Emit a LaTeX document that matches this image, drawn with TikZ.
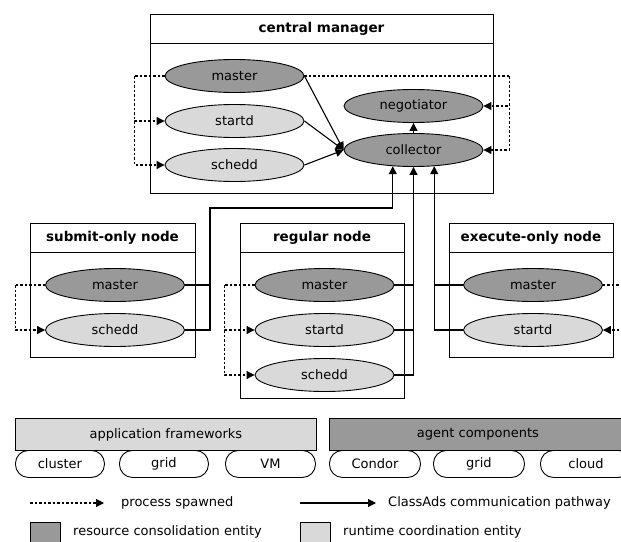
\documentclass[tikz,border=0pt]{standalone}
\usepackage{fontspec}
\setmainfont{DejaVu Sans}
\usetikzlibrary{arrows.meta,shapes.geometric,calc}
\definecolor{darkfill}{gray}{0.6}
\definecolor{lightfill}{gray}{0.85}

\begin{document}
\begin{tikzpicture}[x=1pt,y=-1pt,
  every node/.style={font=\fontsize{13}{15}\selectfont},
  proc/.style={ellipse,draw,line width=0.9pt,minimum width=139pt,minimum height=33pt,inner sep=0pt},
  daemon/.style={proc,fill=darkfill},
  helper/.style={proc,fill=lightfill},
  hostbox/.style={draw,line width=0.9pt,anchor=north west,inner sep=0pt},
  hosttitle/.style={font=\bfseries\fontsize{13.5}{15}\selectfont},
  spawn/.style={line width=1.1pt,dash pattern=on 2.5pt off 2pt},
  link/.style={line width=1.1pt},
  headed/.style={-{Triangle[length=8pt,width=8pt]}},
  bar/.style={draw,line width=0.9pt,anchor=north west,minimum height=32pt,inner sep=0pt},
  pill/.style={draw,line width=0.9pt,fill=white,rounded corners=13pt,anchor=north west,minimum height=27pt,inner sep=0pt},
  swatch/.style={draw,line width=0.9pt,anchor=north west,minimum width=30pt,minimum height=30pt,inner sep=0pt},
  legendtext/.style={anchor=west,inner sep=0pt}
]
\useasboundingbox (0,0) rectangle (621,541);

% ---------- central manager ----------
\node[hostbox,minimum width=343pt,minimum height=179pt] (cmBox) at (150,14) {};
\draw[line width=0.9pt] (150,43) -- (493,43);
\node[hosttitle] (cmTitle) at (321.5,29) {central manager};

\node[daemon] (cmMaster) at (234.5,76) {master};
\node[helper] (cmStartd) at (234.5,121) {startd};
\node[helper] (cmSchedd) at (234.5,165) {schedd};
\node[daemon] (cmNeg) at (413.5,106) {negotiator};
\node[daemon] (cmCol) at (413.5,150) {collector};

\draw[spawn] (cmMaster.west) -- ++(-30,0) coordinate (cmL);
\draw[spawn,headed] (cmL) |- (cmStartd.west);
\draw[spawn,headed] (cmL) |- (cmSchedd.west);
\draw[spawn] (cmMaster.east) -- ++(205,0) coordinate (cmR);
\draw[spawn,headed] (cmR) |- (cmNeg.east);
\draw[spawn,headed] (cmR) |- (cmCol.east);

\draw[link,headed] (cmMaster.east) -- (cmCol.west);
\draw[link,headed] (cmStartd.east) -- (cmCol.west);
\draw[link,headed] (cmSchedd.east) -- (cmCol.west);
\draw[link,headed] (cmCol.north) -- (cmNeg.south);

% ---------- submit-only node ----------
\node[hostbox,minimum width=165pt,minimum height=134pt] (subBox) at (30,223) {};
\draw[line width=0.9pt] (30,252) -- (195,252);
\node[hosttitle] (subTitle) at (112.5,238) {submit-only node};
\node[daemon] (subMaster) at (115,285) {master};
\node[helper] (subSchedd) at (115,330) {schedd};
\draw[spawn] (subMaster.west) -- ++(-30,0) coordinate (subL);
\draw[spawn,headed] (subL) |- (subSchedd.west);

% ---------- regular node ----------
\node[hostbox,minimum width=164pt,minimum height=175pt] (regBox) at (240,223) {};
\draw[line width=0.9pt] (240,252) -- (404,252);
\node[hosttitle] (regTitle) at (322,238) {regular node};
\node[daemon] (regMaster) at (324.5,285) {master};
\node[helper] (regStartd) at (324.5,330) {startd};
\node[helper] (regSchedd) at (324.5,375) {schedd};
\draw[spawn] (regMaster.west) -- ++(-30,0) coordinate (regL);
\draw[spawn,headed] (regL) |- (regStartd.west);
\draw[spawn,headed] (regL) |- (regSchedd.west);

% ---------- execute-only node ----------
\node[hostbox,minimum width=164pt,minimum height=134pt] (exBox) at (449,223) {};
\draw[line width=0.9pt] (449,252) -- (613,252);
\node[hosttitle] (exTitle) at (531,238) {execute-only node};
\node[daemon] (exMaster) at (533,285) {master};
\node[helper] (exStartd) at (533,330) {startd};
\draw[spawn] (exMaster.east) -- ++(30,0);
\draw[spawn,headed] (exStartd.east) ++(30,0) -- (exStartd.east);

% ---------- ClassAds paths to the collector ----------
\coordinate (subUp) at (210,208);
\draw[link] (subMaster.east) -- (subMaster.east -| subUp);
\draw[link,headed] (subSchedd.east) -| (subUp) -| (cmCol.218);

\draw[link] (regMaster.east) -- (regMaster.east -| cmCol.south);
\draw[link] (regStartd.east) -- (regStartd.east -| cmCol.south);
\draw[link,headed] (regSchedd.east) -| (cmCol.south);

\draw[link] (exMaster.west) -- (exMaster.west -| cmCol.322);
\draw[link,headed] (exStartd.west) -| (cmCol.322);

% ---------- frameworks and components ----------
\node[bar,fill=lightfill,minimum width=301pt] (appBar) at (15,418) {application frameworks};
\node[bar,fill=darkfill,minimum width=297pt] (agentBar) at (329,418) {agent components};

\node[pill,minimum width=89pt] (pCluster) at (15,450) {cluster};
\node[pill,minimum width=89pt] (pGrid) at (119,450) {grid};
\node[pill,minimum width=90pt] (pVM) at (225,450) {VM};
\node[pill,minimum width=91pt] (pCondor) at (329,450) {Condor};
\node[pill,minimum width=91pt] (pGridB) at (433,450) {grid};
\node[pill,minimum width=91pt] (pCloud) at (540,450) {cloud};

% ---------- legend ----------
\coordinate (lgSpawnA) at (30,503);
\coordinate (lgSpawnB) at (104,503);
\draw[spawn,headed] (lgSpawnA) -- (lgSpawnB);
\node[legendtext] (lgSpawn) at (121,503) {process spawned};

\coordinate (lgLinkA) at (300,503);
\coordinate (lgLinkB) at (376,503);
\draw[link,headed] (lgLinkA) -- (lgLinkB);
\node[legendtext] (lgLink) at (388,503) {ClassAds communication pathway};

\node[swatch,fill=darkfill] (lgDark) at (30,522) {};
\node[legendtext] (lgDarkTxt) at (73,532) {resource consolidation entity};
\node[swatch,fill=lightfill] (lgLight) at (300,522) {};
\node[legendtext] (lgLightTxt) at (343,532) {runtime coordination entity};
\end{tikzpicture}
\end{document}
